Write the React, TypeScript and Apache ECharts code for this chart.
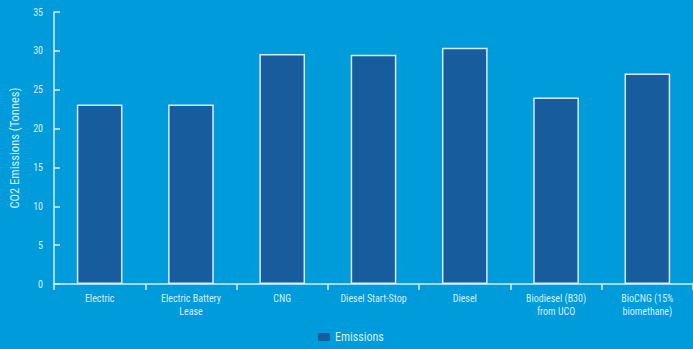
import React, { useEffect, useRef } from "react";
import * as echarts from "echarts";

const categories = [
  "Electric",
  "Electric Battery\nLease",
  "CNG",
  "Diesel Start-Stop",
  "Diesel",
  "Biodiesel (B30)\nfrom UCO",
  "BioCNG (15%\nbiomethane)",
];
const emissions = [23.1, 23.1, 29.6, 29.5, 30.4, 24.0, 27.1];
const seriesName = "Emissions";
const yTitle = "CO2 Emissions (Tonnes)";

const FONT = "'Liberation Sans Narrow', 'Roboto Condensed', Arial, sans-serif";
const TEXT = "#d6eef9";
const AXIS = "#d6eef9";

export default function App() {
  const ref = useRef<HTMLDivElement>(null);
  useEffect(() => {
    const chart = echarts.init(ref.current!, null, { renderer: "svg" });
    chart.setOption({
      animation: false,
      backgroundColor: "#009bdb",
      textStyle: { fontFamily: FONT },
      grid: { left: 50, right: -3, top: 12, bottom: 65 },
      legend: {
        bottom: 1,
        left: 313,
        itemWidth: 12,
        itemHeight: 8,
        itemGap: 4,
        textStyle: { color: TEXT, fontSize: 12, fontFamily: FONT },
        data: [{ name: seriesName, itemStyle: { borderWidth: 0 } }],
      },
      xAxis: {
        type: "category",
        data: categories,
        axisLine: { lineStyle: { color: AXIS, width: 1.5 } },
        axisTick: { show: true, length: 6, lineStyle: { color: AXIS, width: 1.5 } },
        axisLabel: {
          color: TEXT,
          fontSize: 10,
          fontFamily: FONT,
          interval: 0,
          margin: 8,
          lineHeight: 13,
        },
      },
      yAxis: {
        type: "value",
        min: 0,
        max: 35,
        interval: 5,
        name: yTitle,
        nameLocation: "middle",
        nameGap: 33,
        nameTextStyle: { color: TEXT, fontSize: 12.5, fontFamily: FONT },
        splitLine: { show: false },
        axisLine: { show: true, lineStyle: { color: AXIS, width: 1.5 } },
        axisTick: { show: true, inside: true, length: 6, lineStyle: { color: AXIS, width: 1.5 } },
        axisLabel: { color: TEXT, fontSize: 10, fontFamily: FONT, margin: 11 },
      },
      series: [
        {
          name: seriesName,
          type: "bar",
          data: emissions,
          barWidth: "50%",
          itemStyle: {
            color: "#175d9d",
            borderColor: "rgba(235,245,252,0.9)",
            borderWidth: 1.5,
          },
        },
      ],
    });
    return () => chart.dispose();
  }, []);
  return (
    <div
      ref={ref}
      style={{ position: "fixed", left: 0, top: 0, width: 693, height: 349 }}
    />
  );
}
